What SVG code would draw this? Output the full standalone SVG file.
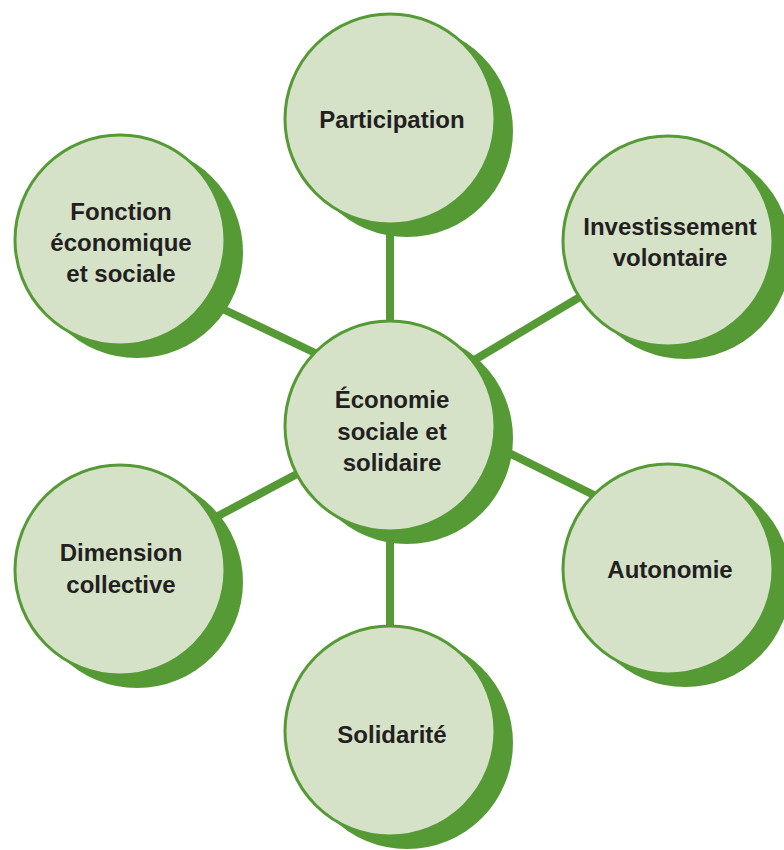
<svg xmlns="http://www.w3.org/2000/svg" width="784" height="850" viewBox="0 0 784 850">
<style>
.shadow{fill:#559a35}
.disc{fill:#d5e2c8;stroke:#559a35;stroke-width:3}
.conn{stroke:#559a35;stroke-width:8;stroke-linecap:butt;fill:none}
text{font-family:"Liberation Sans",Arial,sans-serif;font-weight:bold;font-size:24px;fill:#231f20;text-anchor:middle}
</style>
<rect width="784" height="850" fill="#ffffff"/>
<g id="connectors">
<line class="conn" x1="390" y1="220" x2="390" y2="335"/>
<line class="conn" x1="461" y1="368" x2="595" y2="288"/>
<line class="conn" x1="208" y1="302" x2="332" y2="361"/>
<line class="conn" x1="493" y1="445" x2="610" y2="503"/>
<line class="conn" x1="203" y1="524" x2="312" y2="466"/>
<line class="conn" x1="390" y1="530" x2="390" y2="640"/>
</g>
<g id="participation">
<circle class="shadow" cx="407" cy="131" r="106"/>
<circle class="disc" cx="390" cy="119" r="105"/>
<text x="392" y="128">Participation</text>
</g>
<g id="investissement">
<circle class="shadow" cx="685" cy="253" r="106"/>
<circle class="disc" cx="668" cy="241" r="105"/>
<text x="670" y="235">Investissement</text>
<text x="670" y="266">volontaire</text>
</g>
<g id="fonction">
<circle class="shadow" cx="137" cy="252" r="106"/>
<circle class="disc" cx="120" cy="240" r="105"/>
<text x="121" y="220">Fonction</text>
<text x="121" y="251">économique</text>
<text x="121" y="282">et sociale</text>
</g>
<g id="autonomie">
<circle class="shadow" cx="685" cy="581" r="106"/>
<circle class="disc" cx="668" cy="569" r="105"/>
<text x="670" y="578">Autonomie</text>
</g>
<g id="dimension">
<circle class="shadow" cx="137" cy="582" r="106"/>
<circle class="disc" cx="120" cy="570" r="105"/>
<text x="121" y="561">Dimension</text>
<text x="121" y="593">collective</text>
</g>
<g id="solidarite">
<circle class="shadow" cx="407" cy="743" r="106"/>
<circle class="disc" cx="390" cy="731" r="105"/>
<text x="392" y="743">Solidarité</text>
</g>
<g id="centre">
<circle class="shadow" cx="407" cy="438" r="106"/>
<circle class="disc" cx="390" cy="426" r="105"/>
<text x="392" y="408">Économie</text>
<text x="392" y="440">sociale et</text>
<text x="392" y="471">solidaire</text>
</g>
</svg>
